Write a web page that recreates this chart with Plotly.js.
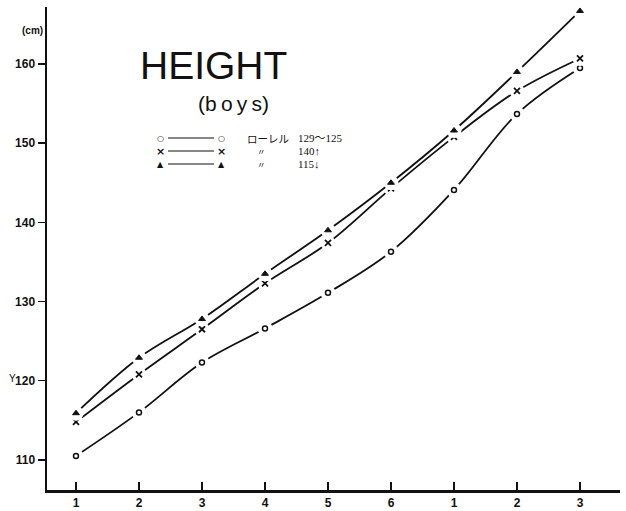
<!DOCTYPE html>
<html>
<head>
<meta charset="utf-8">
<script src="https://cdn.plot.ly/plotly-3.0.1.min.js"></script>
<style>html,body{margin:0;padding:0;background:#fff;}#chart{width:626px;height:511px;}</style>
</head>
<body>
<div id="chart"></div>
<script>
// Grade index (elementary 1-6, junior high 1-3)
var grades = [1, 2, 3, 4, 5, 6, 7, 8, 9];
var gradeLabels = ["1", "2", "3", "4", "5", "6", "1", "2", "3"];
// Height (cm)
var laurel129_125 = [110.5, 116.0, 122.3, 126.6, 131.1, 136.3, 144.1, 153.7, 159.5];
var laurel140up   = [114.8, 120.8, 126.5, 132.3, 137.4, 144.3, 150.8, 156.6, 160.7];
var laurel115down = [115.9, 122.9, 127.8, 133.5, 139.0, 145.0, 151.6, 159.0, 166.7];
var yTicks = [110, 120, 130, 140, 150, 160];

var L = 47, R = 620, T = 7, B = 490;
function px(x){ return (x - L) / (R - L); }
function py(y){ return (B - y) / (B - T); }

var series = [
  {y: laurel129_125, sym: "circle-open", size: 5, lw: 1.5},
  {y: laurel140up, sym: "x-thin-open", size: 6, lw: 1.8},
  {y: laurel115down, sym: "triangle-up", size: 6, lw: 1}
];
var traces = [];
series.forEach(function(s){
  traces.push({x: grades, y: s.y, mode: "lines", line: {shape: "spline", smoothing: 1, color: "#111", width: 1.8}, hoverinfo: "skip", showlegend: false});
  traces.push({x: grades, y: s.y, mode: "markers", marker: {symbol: "circle", size: 15, color: "#fff"}, hoverinfo: "skip", showlegend: false, cliponaxis: false});
  traces.push({x: grades, y: s.y, mode: "markers", marker: {symbol: s.sym, size: s.size, color: "#111", line: {color: "#111", width: s.lw}}, showlegend: false, cliponaxis: false});
});

var ann = [];
var shapes = [];
function txt(x, y, t, size, fam, xa, extra){
  var a = {xref: "paper", yref: "paper", x: px(x), y: py(y), text: t, showarrow: false,
    xanchor: xa || "center", yanchor: "middle", font: {size: size, family: fam, color: "#111"}};
  if (extra) for (var k in extra) a[k] = extra[k];
  ann.push(a);
}
txt(213, 66, "HEIGHT", 39, "Liberation Sans");
txt(233, 104, "(b\u2009o\u2009y\u2009s)", 21, "Liberation Sans");
txt(32, 31, "<b>(cm)</b>", 10, "Liberation Sans");
txt(12, 378, "Y", 10, "Liberation Sans");

var legRows = [
  {y: 138, m: "\u25CB", ms: 8, name: "\u30ED\u30FC\u30EC\u30EB", val: "129\u301C125"},
  {y: 151, m: "<b>\u00D7</b>", ms: 11, name: "\u3003", val: "140\u2191"},
  {y: 164, m: "\u25B2", ms: 8, name: "\u3003", val: "115\u2193"}
];
legRows.forEach(function(r){
  txt(160, r.y, r.m, r.ms, "DejaVu Sans");
  txt(221, r.y, r.m, r.ms, "DejaVu Sans");
  shapes.push({type: "line", xref: "paper", yref: "paper", x0: px(168), x1: px(214), y0: py(r.y), y1: py(r.y), line: {color: "#111", width: 1}});
  if (r.name === "\u3003") txt(261, r.y, r.name, 8.5, "Noto Sans CJK JP");
  else txt(245, r.y, r.name, 10.5, "Noto Sans CJK JP", "left");
  txt(296, r.y, r.val, 11, "Liberation Serif, Noto Sans CJK JP", "left");
});

var layout = {
  width: 626, height: 511,
  margin: {l: L, r: 626 - R, t: T, b: 511 - B, pad: 0},
  paper_bgcolor: "#fff", plot_bgcolor: "#fff",
  showlegend: false,
  xaxis: {range: [0.54, 9.635], tickvals: grades, ticktext: gradeLabels, ticks: "inside", ticklen: 8, tickwidth: 1.5, tickcolor: "#111",
    showline: true, linecolor: "#111", linewidth: 2.5, showgrid: false, zeroline: false,
    tickfont: {size: 12, family: "Liberation Sans", color: "#111", weight: "bold"}},
  yaxis: {range: [106.2, 167.2], tickvals: yTicks, ticks: "outside", ticklen: 7, tickwidth: 1.5, tickcolor: "#111",
    showline: true, linecolor: "#111", linewidth: 2.5, showgrid: false, zeroline: false,
    tickfont: {size: 12, family: "Liberation Sans", color: "#111", weight: "bold"}},
  annotations: ann,
  shapes: shapes
};
Plotly.newPlot("chart", traces, layout, {staticPlot: true});
</script>
</body>
</html>
